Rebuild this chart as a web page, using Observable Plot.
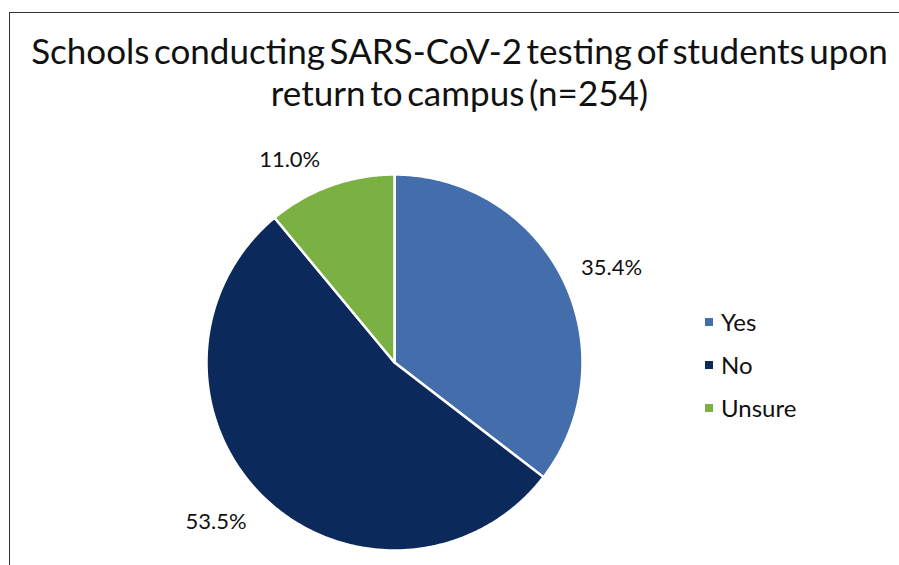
<!DOCTYPE html>
<html><head><meta charset="utf-8">
<script src="https://cdn.jsdelivr.net/npm/d3@7"></script>
<script src="https://cdn.jsdelivr.net/npm/@observablehq/plot@0.6"></script>
<style>
html,body{margin:0;padding:0;background:#fff;overflow:hidden;}
body{width:899px;height:565px;position:relative;font-family:Lato,"Open Sans",sans-serif;color:#111;}
#frame{position:absolute;left:9px;top:12px;width:1000px;height:700px;border-top:1.5px solid #333;border-left:1.5px solid #333;box-sizing:border-box;}
#title{position:absolute;left:10px;top:29px;width:899px;text-align:center;font-size:35px;line-height:42px;word-spacing:-4.3px;}
#chart{position:absolute;left:0;top:130px;}
#legend{position:absolute;left:705px;top:300px;font-size:24px;}
.item{display:flex;align-items:center;height:43px;}
.sw{width:8px;height:8px;margin-right:8px;}
</style>
</head><body>
<div id="frame"></div>
<div id="title">Schools conducting SARS-CoV-2 testing of students upon<br>return to campus (n=254)</div>
<div id="chart"></div>
<div id="legend"></div>
<script>
const categories = ["Yes", "No", "Unsure"];
const percents = [35.4, 53.5, 11.0];
const labels = ["35.4%", "53.5%", "11.0%"];

const colors = ["#446EAB", "#0B2A5B", "#7BB043"];
const cx = 394, cy = 232, R = 188; // pixel center inside svg, radius

const pie = d3.pie().sort(null).value(d => d.value)(categories.map((c, i) => ({cat: c, value: percents[i], label: labels[i]})));

// polygon vertices for each slice (unit circle, angle clockwise from top)
const pts = [];
for (const s of pie) {
  pts.push({cat: s.data.cat, x: 0, y: 0});
  const n = Math.max(2, Math.ceil((s.endAngle - s.startAngle) / 0.01));
  for (let k = 0; k <= n; k++) {
    const a = s.startAngle + (s.endAngle - s.startAngle) * k / n;
    pts.push({cat: s.data.cat, x: Math.sin(a), y: Math.cos(a)});
  }
}
const lr = 1.26;
const lab = pie.map(s => {
  const a = (s.startAngle + s.endAngle) / 2;
  return {cat: s.data.cat, label: s.data.label, x: lr * Math.sin(a), y: lr * Math.cos(a)};
});
const offs = {Yes: [4.5, 10.5], No: [-14, -10.6], Unsure: [-24.5, 20.5]};

const plot = Plot.plot({
  width: 690, height: 435,
  margin: 0,
  x: {domain: [-1, 1], range: [cx - R, cx + R], axis: null},
  y: {domain: [-1, 1], range: [cy + R, cy - R], axis: null},
  color: {domain: categories, range: colors},
  style: {fontFamily: "Lato, 'Open Sans', sans-serif", background: "transparent"},
  marks: [
    Plot.line(pts, {x: "x", y: "y", z: "cat", fill: "cat", stroke: "white", strokeWidth: 2.5, curve: "linear-closed", strokeLinejoin: "round"}),
    ...categories.map(c => Plot.text(lab.filter(d => d.cat === c), {
      x: "x", y: "y", text: "label", fontSize: 22, fill: "#111",
      textAnchor: "middle", lineAnchor: "middle", dx: offs[c][0], dy: offs[c][1]
    }))
  ]
});
document.getElementById("chart").appendChild(plot);

const leg = document.getElementById("legend");
categories.forEach((c, i) => {
  const it = document.createElement("div");
  it.className = "item";
  it.innerHTML = `<span class="sw" style="background:${colors[i]}"></span><span>${c}</span>`;
  leg.appendChild(it);
});
</script>
</body></html>
